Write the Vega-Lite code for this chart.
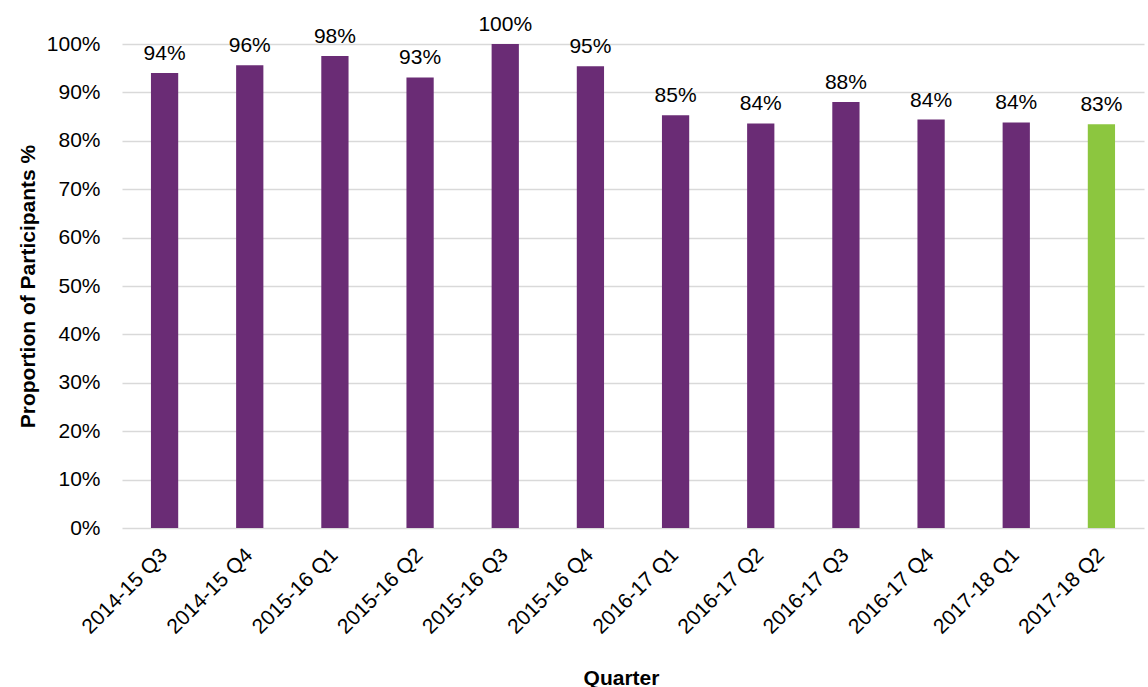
{
  "$schema": "https://vega.github.io/schema/vega-lite/v6.json",
  "width": 1022,
  "height": 484,
  "autosize": {"type": "none"},
  "padding": {"left": 122, "top": 44, "right": 4, "bottom": 159},
  "background": "white",
  "config": {
    "font": "Liberation Sans",
    "view": {"stroke": null}
  },
  "data": {
    "values": [
      {"quarter": "2014-15 Q3", "pct": 0.940, "latest": "no"},
      {"quarter": "2014-15 Q4", "pct": 0.956, "latest": "no"},
      {"quarter": "2015-16 Q1", "pct": 0.975, "latest": "no"},
      {"quarter": "2015-16 Q2", "pct": 0.931, "latest": "no"},
      {"quarter": "2015-16 Q3", "pct": 1.000, "latest": "no"},
      {"quarter": "2015-16 Q4", "pct": 0.954, "latest": "no"},
      {"quarter": "2016-17 Q1", "pct": 0.853, "latest": "no"},
      {"quarter": "2016-17 Q2", "pct": 0.836, "latest": "no"},
      {"quarter": "2016-17 Q3", "pct": 0.880, "latest": "no"},
      {"quarter": "2016-17 Q4", "pct": 0.844, "latest": "no"},
      {"quarter": "2017-18 Q1", "pct": 0.838, "latest": "no"},
      {"quarter": "2017-18 Q2", "pct": 0.834, "latest": "yes"}
    ]
  },
  "encoding": {
    "x": {
      "field": "quarter",
      "type": "nominal",
      "sort": null,
      "scale": {"paddingInner": 0.68, "paddingOuter": 0.34},
      "axis": {
        "title": "Quarter",
        "titleFontSize": 21,
        "titleFontWeight": "bold",
        "titleColor": "#000000",
        "titleX": 499,
        "titleY": 150,
        "titleBaseline": "middle",
        "labelAngle": -45,
        "labelFontSize": 21,
        "labelColor": "#000000",
        "labelPadding": 16,
        "labelOffset": -8,
        "ticks": false,
        "domain": false
      }
    },
    "y": {
      "field": "pct",
      "type": "quantitative",
      "scale": {"domain": [0, 1]},
      "axis": {
        "title": "Proportion of Participants %",
        "titleFontSize": 21,
        "titleFontWeight": "bold",
        "titleColor": "#000000",
        "titleX": -94,
        "titleBaseline": "middle",
        "values": [0, 0.1, 0.2, 0.3, 0.4, 0.5, 0.6, 0.7, 0.8, 0.9, 1],
        "format": ".0%",
        "labelFontSize": 21,
        "labelColor": "#000000",
        "labelPadding": 22,
        "ticks": false,
        "domain": false,
        "grid": true,
        "gridColor": "#d9d9d9",
        "gridWidth": 1.5
      }
    }
  },
  "layer": [
    {
      "mark": {"type": "bar"},
      "encoding": {
        "color": {
          "field": "latest",
          "type": "nominal",
          "scale": {"domain": ["no", "yes"], "range": ["#6a2c75", "#8cc63f"]},
          "legend": null
        }
      }
    },
    {
      "mark": {"type": "text", "baseline": "bottom", "dy": -9, "fontSize": 21, "color": "#000000"},
      "encoding": {
        "text": {"field": "pct", "type": "quantitative", "format": ".0%"}
      }
    }
  ]
}
